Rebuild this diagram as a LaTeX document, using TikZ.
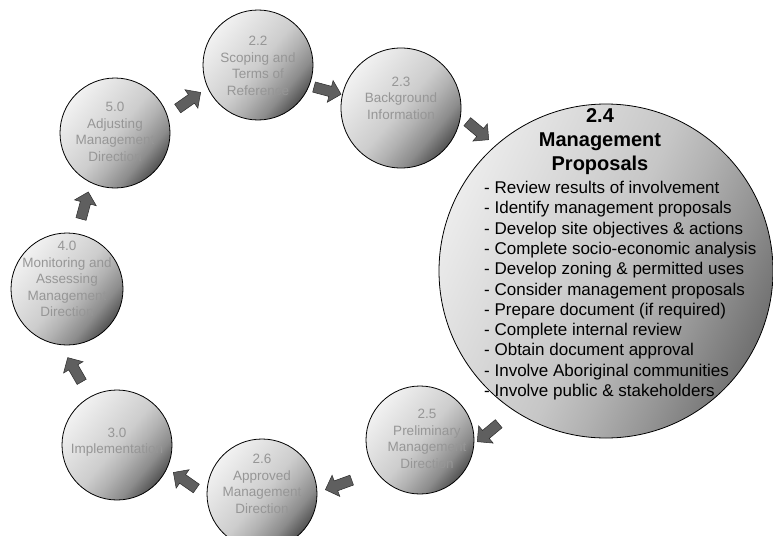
\documentclass[tikz,border=0pt]{standalone}
\usepackage{fontspec}
\setmainfont{Liberation Sans}
\usetikzlibrary{shapes.arrows,calc}
\definecolor{txtgray}{RGB}{150,150,150}
\definecolor{arrowfill}{RGB}{95,95,95}
\definecolor{arrowline}{RGB}{45,45,45}
\definecolor{sA}{RGB}{60,60,60}
\definecolor{sB}{RGB}{82,82,82}
\definecolor{sC}{RGB}{140,140,140}
\definecolor{sD}{RGB}{178,178,178}
\definecolor{sE}{RGB}{205,205,205}
\definecolor{sF}{RGB}{242,242,242}
\definecolor{bA}{RGB}{100,100,100}
\definecolor{bB}{RGB}{112,112,112}
\definecolor{bC}{RGB}{150,150,150}
\definecolor{bD}{RGB}{178,178,178}
\definecolor{bE}{RGB}{198,198,198}
\definecolor{bF}{RGB}{236,236,236}
\pgfdeclareverticalshading{ballshade}{100bp}{color(0bp)=(sA); color(25bp)=(sB); color(33bp)=(sC); color(42bp)=(sD); color(50bp)=(sE); color(75bp)=(sF); color(100bp)=(sF)}
\pgfdeclareverticalshading{bigshade}{100bp}{color(0bp)=(bA); color(25bp)=(bB); color(35bp)=(bC); color(43bp)=(bD); color(50bp)=(bE); color(75bp)=(bF); color(100bp)=(bF)}
\begin{document}
\begin{tikzpicture}[x=1pt,y=-1pt,
  stage/.style={circle, draw=black, line width=0.8pt, inner sep=0pt,
    shading=ballshade, shading angle=50},
  small/.style={stage, minimum size=110pt},
  stagetext/.style={align=center, text=txtgray, inner sep=0pt,
    font=\fontsize{13.5}{16.5}\selectfont},
  titletext/.style={align=center, text=black, inner sep=0pt,
    font=\fontsize{20}{24}\selectfont\bfseries},
  listtext/.style={align=left, text=black, inner sep=0pt,
    font=\fontsize{17}{20.3}\selectfont},
  blockarrow/.style={single arrow, draw=arrowline, fill=arrowfill,
    line width=0.5pt, minimum height=28pt, inner xsep=0pt, inner ysep=5pt,
    single arrow head extend=6pt}]
\useasboundingbox (0,0) rectangle (773,535);

% circles
\node[stage, minimum size=334pt, shading=bigshade, shading angle=65] (c24) at (606,271) {};
\node[small] (c22) at (258,65) {};
\node[small, minimum size=120pt] (c23) at (401,108) {};
\node[small] (c50) at (115,133) {};
\node[small, minimum size=112pt] (c40) at (67,289) {};
\node[small] (c30) at (117,445) {};
\node[small] (c26) at (262,494) {};
\node[small, minimum size=108pt] (c25) at (420,440) {};

% circle texts
\node[stagetext] (t22) at ($(c22.center)+(0,1)$) {2.2\\Scoping and\\Terms of\\Reference};
\node[stagetext] (t23) at ($(c23.center)+(0,-10)$) {2.3\\Background\\Information};
\node[stagetext] (t50) at ($(c50.center)+(0,-1)$) {5.0\\Adjusting\\Management\\Direction};
\node[stagetext] (t40) at ($(c40.center)+(0,-10)$) {4.0\\Monitoring and\\Assessing\\Management\\Direction};
\node[stagetext] (t30) at ($(c30.center)+(0,-3)$) {3.0\\Implementation};
\node[stagetext] (t26) at ($(c26.center)+(0,-10)$) {2.6\\Approved\\Management\\Direction};
\node[stagetext] (t25) at ($(c25.center)+(7,-1)$) {2.5\\Preliminary\\Management\\Direction};

\node[titletext, anchor=north] (t24) at (600,108) {2.4\\Management\\Proposals};
\node[listtext, anchor=north west] (l24) at (484,181) {- Review results of involvement\\
- Identify management proposals\\
- Develop site objectives \& actions\\
- Complete socio-economic analysis\\
- Develop zoning \& permitted uses\\
- Consider management proposals\\
- Prepare document (if required)\\
- Complete internal review\\
- Obtain document approval\\
- Involve Aboriginal communities\\
- Involve public \& stakeholders};

% block arrows
\node[blockarrow, rotate=35] (a1) at (187,102) {};
\node[blockarrow, rotate=-15] (a2) at (325,90) {};
\node[blockarrow, rotate=-40] (a3) at (476,129) {};
\node[blockarrow, rotate=-140] (a4) at (490,431) {};
\node[blockarrow, rotate=200] (a5) at (341,484) {};
\node[blockarrow, rotate=145] (a6) at (187,482) {};
\node[blockarrow, rotate=120] (a7) at (76,372) {};
\node[blockarrow, rotate=75] (a8) at (84,208) {};
\end{tikzpicture}
\end{document}
